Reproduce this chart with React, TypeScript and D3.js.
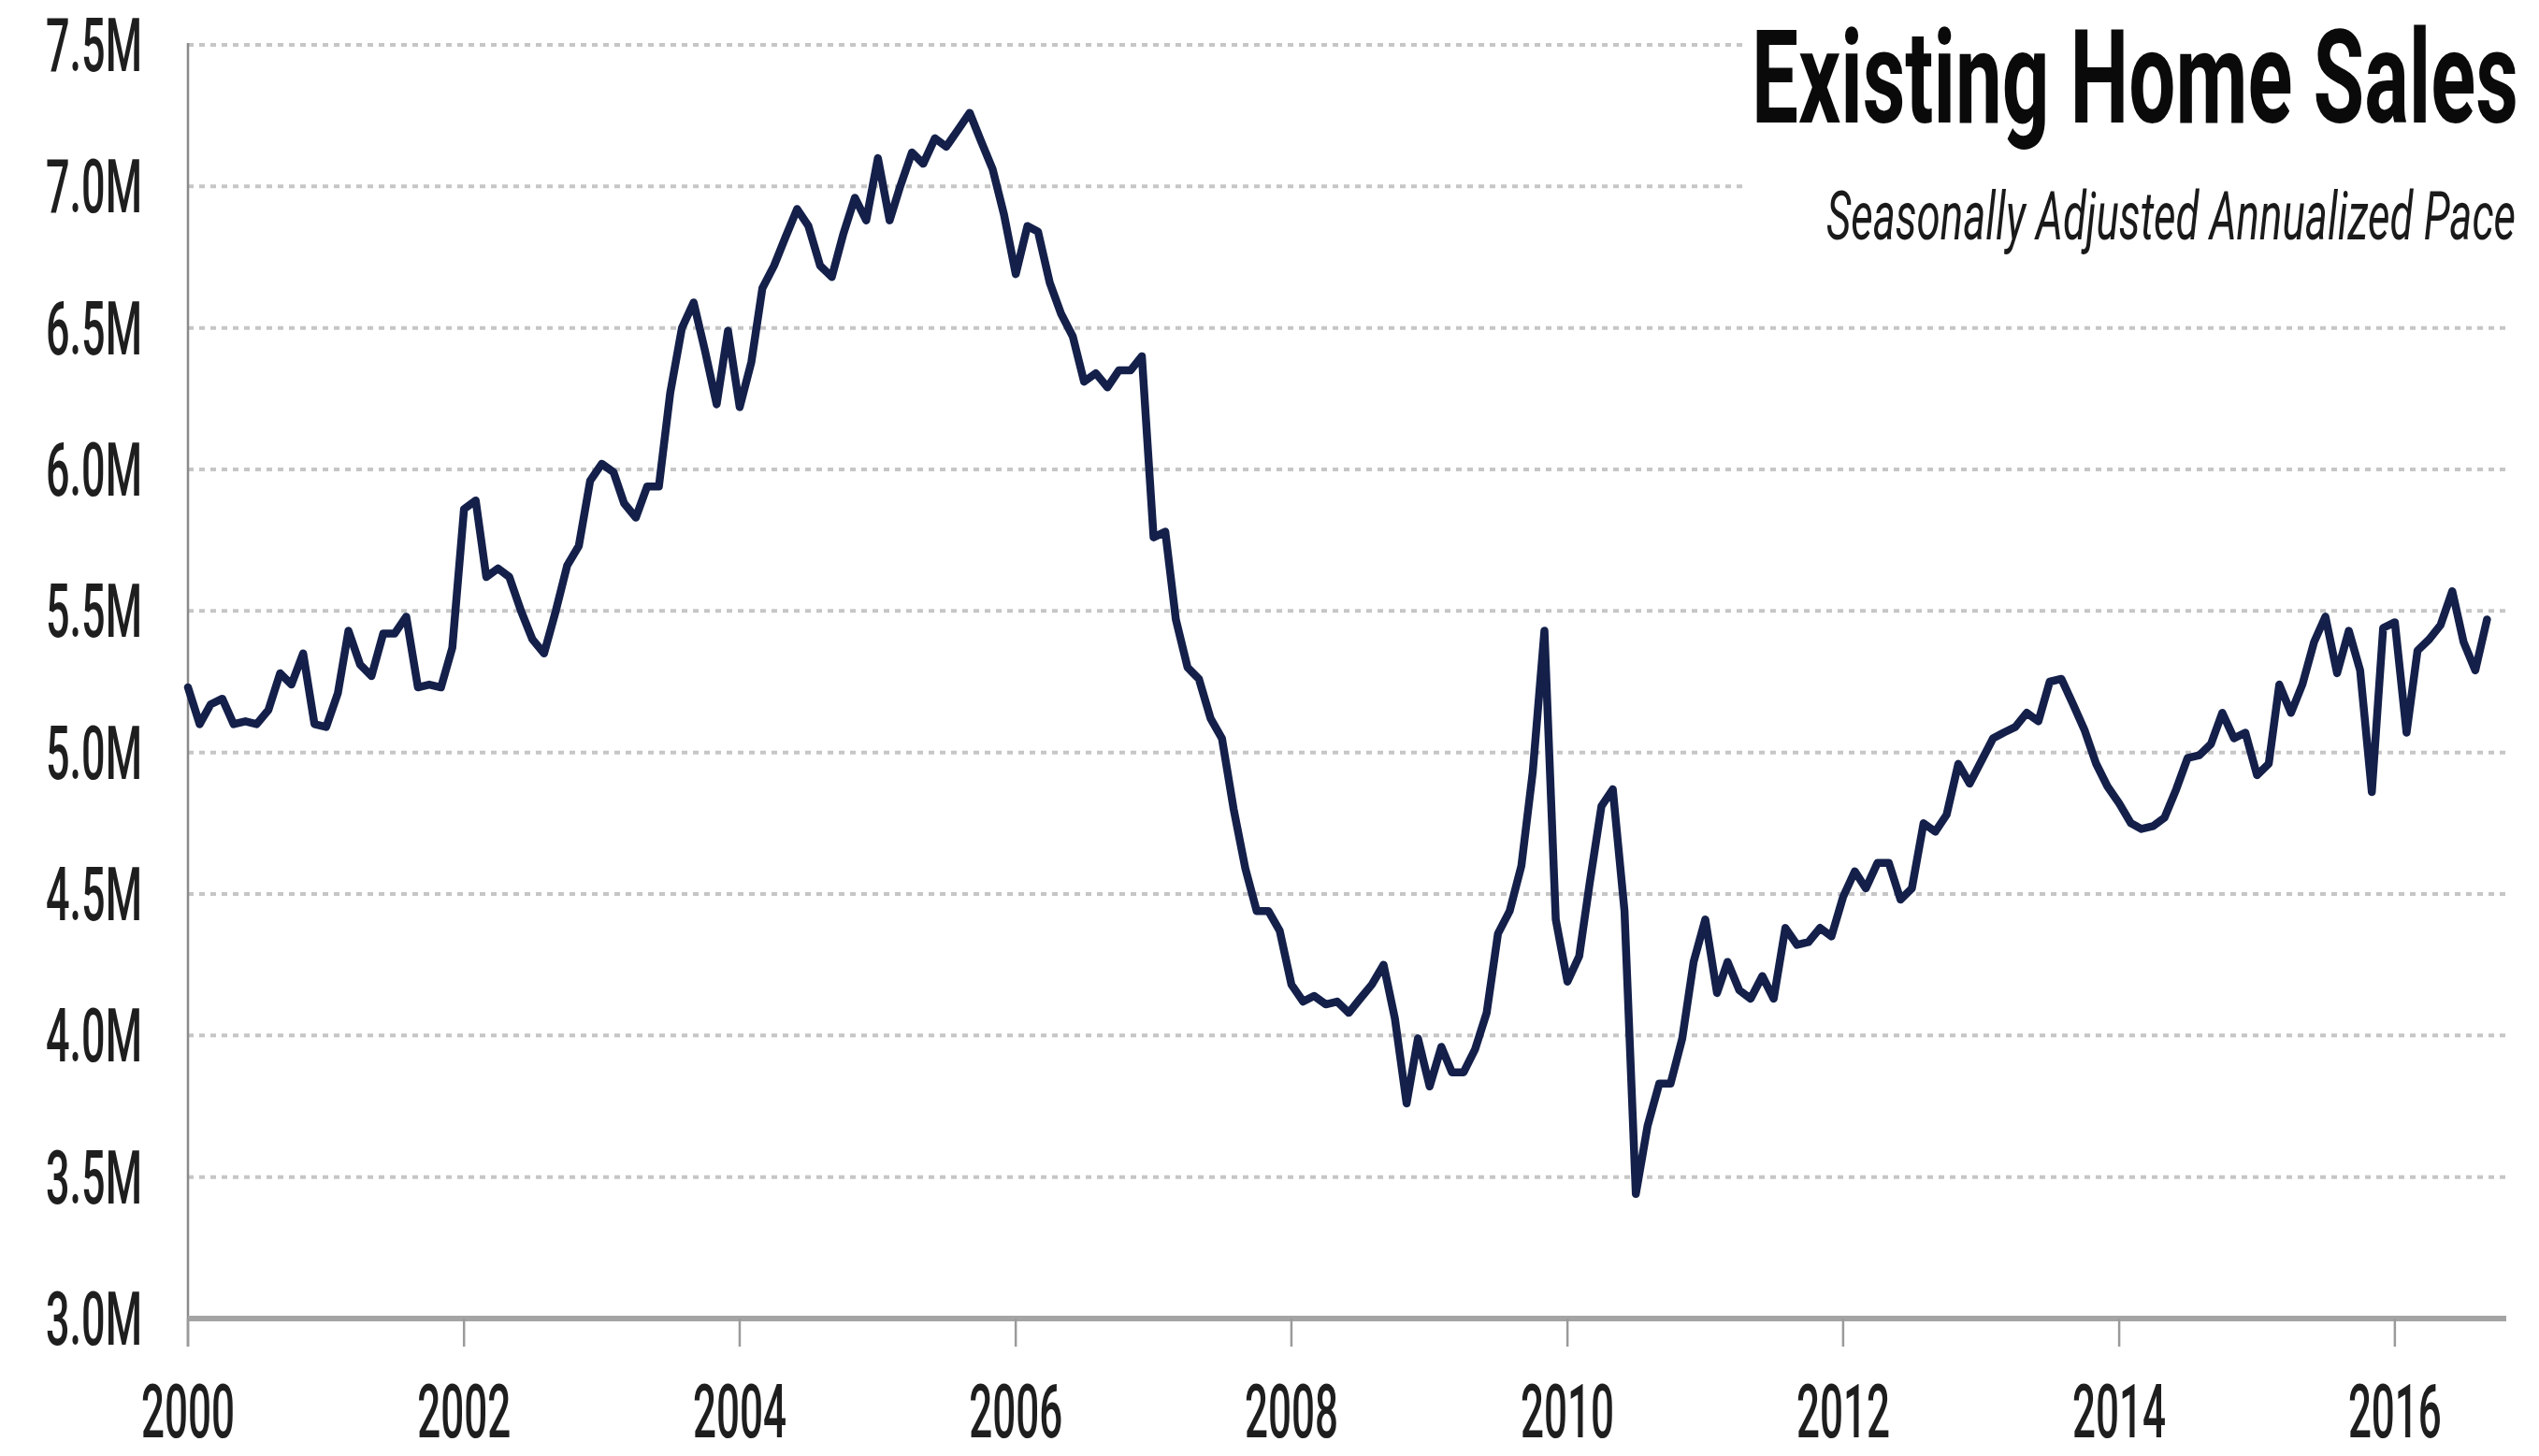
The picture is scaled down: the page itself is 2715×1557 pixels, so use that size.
import React, { useLayoutEffect, useRef, useState } from "react";
import * as d3 from "d3";

const startYear = 2000;
// Existing home sales, SAAR, millions, monthly from Jan 2000 to Sep 2016
const salesMillions: number[] = [
  5.23, 5.10, 5.17, 5.19, 5.10, 5.11, 5.10, 5.15, 5.28, 5.24, 5.35, 5.10,
  5.09, 5.21, 5.43, 5.31, 5.27, 5.42, 5.42, 5.48, 5.23, 5.24, 5.23, 5.37,
  5.86, 5.89, 5.62, 5.65, 5.62, 5.50, 5.40, 5.35, 5.50, 5.66, 5.73, 5.96,
  6.02, 5.99, 5.88, 5.83, 5.94, 5.94, 6.27, 6.50, 6.59, 6.42, 6.23, 6.49,
  6.22, 6.38, 6.64, 6.72, 6.82, 6.92, 6.86, 6.72, 6.68, 6.83, 6.96, 6.88,
  7.10, 6.88, 7.00, 7.12, 7.08, 7.17, 7.14, 7.20, 7.26, 7.16, 7.06, 6.90,
  6.69, 6.86, 6.84, 6.66, 6.55, 6.47, 6.31, 6.34, 6.29, 6.35, 6.35, 6.40,
  5.76, 5.78, 5.47, 5.30, 5.26, 5.12, 5.05, 4.80, 4.59, 4.44, 4.44, 4.37,
  4.18, 4.12, 4.14, 4.11, 4.12, 4.08, 4.13, 4.18, 4.25, 4.06, 3.76, 3.99,
  3.82, 3.96, 3.87, 3.87, 3.95, 4.08, 4.36, 4.44, 4.60, 4.93, 5.43, 4.41,
  4.19, 4.28, 4.54, 4.81, 4.87, 4.44, 3.44, 3.68, 3.83, 3.83, 3.99, 4.26,
  4.41, 4.15, 4.26, 4.16, 4.13, 4.21, 4.13, 4.38, 4.32, 4.33, 4.38, 4.35,
  4.49, 4.58, 4.52, 4.61, 4.61, 4.48, 4.52, 4.75, 4.72, 4.78, 4.96, 4.89,
  4.97, 5.05, 5.07, 5.09, 5.14, 5.11, 5.25, 5.26, 5.17, 5.08, 4.96, 4.88,
  4.82, 4.75, 4.73, 4.74, 4.77, 4.87, 4.98, 4.99, 5.03, 5.14, 5.05, 5.07,
  4.92, 4.96, 5.24, 5.14, 5.24, 5.39, 5.48, 5.28, 5.43, 5.29, 4.86, 5.44,
  5.46, 5.07, 5.36, 5.40, 5.45, 5.57, 5.39, 5.29, 5.47,
];

const yTicks: number[] = [3.0, 3.5, 4.0, 4.5, 5.0, 5.5, 6.0, 6.5, 7.0, 7.5];
const xTickYears: number[] = [2000, 2002, 2004, 2006, 2008, 2010, 2012, 2014, 2016];
const titleText = "Existing Home Sales";
const subtitleText = "Seasonally Adjusted Annualized Pace";

const W = 2715;
const H = 1557;
const FONT = "Roboto, 'Open Sans', sans-serif";

type FitProps = {
  x: number;
  y: number;
  width: number;
  anchor: "start" | "middle" | "end";
  size: number;
  weight?: number;
  italic?: boolean;
  fill?: string;
  children: string;
};

// Text squeezed horizontally to a given width (the reference uses a condensed face)
function FitText({ x, y, width, anchor, size, weight = 400, italic = false, fill = "#1e1e1e", children }: FitProps) {
  const ref = useRef<SVGTextElement>(null);
  const [sx, setSx] = useState(0.6);
  useLayoutEffect(() => {
    const measure = () => {
      if (!ref.current) return;
      const w = ref.current.getComputedTextLength();
      if (w > 0) setSx(width / w);
    };
    measure();
    if ((document as any).fonts && (document as any).fonts.ready) {
      (document as any).fonts.ready.then(measure);
    }
  }, [width, children]);
  return (
    <text
      ref={ref}
      transform={`translate(${x},${y}) scale(${sx},1)`}
      x={0}
      y={0}
      textAnchor={anchor}
      fontFamily={FONT}
      fontWeight={weight}
      fontStyle={italic ? "italic" : "normal"}
      fontSize={size}
      fill={fill}
    >
      {children}
    </text>
  );
}

export default function App() {
  const x = d3
    .scaleTime()
    .domain([new Date(2000, 0, 1), new Date(2016, 9, 22)])
    .range([201, 2680]);
  const y = d3.scaleLinear().domain([3.0, 7.5]).range([1410, 48]);

  const data = salesMillions.map((v, i) => ({ date: new Date(startYear, i, 1), v }));
  const line = d3
    .line<{ date: Date; v: number }>()
    .x((d) => x(d.date))
    .y((d) => y(d.v));

  const [x0, x1] = x.range();

  return (
    <svg
      width={W}
      height={H}
      viewBox={`0 0 ${W} ${H}`}
      style={{ position: "absolute", left: 0, top: 0, background: "#fff" }}
    >
      <rect x={0} y={0} width={W} height={H} fill="#fff" />
      {/* gridlines */}
      {yTicks
        .filter((t) => t > 3.0)
        .map((t) => (
          <line
            key={"g" + t}
            x1={x0}
            x2={x1}
            y1={y(t)}
            y2={y(t)}
            stroke="#c6c6c6"
            strokeWidth={4}
            strokeDasharray="6 6"
          />
        ))}
      {/* title background */}
      <rect x={1866} y={0} width={W - 1866} height={272} fill="#fff" />
      {/* y axis line */}
      <line x1={x0} x2={x0} y1={y(7.5) - 2} y2={1440} stroke="#8a8a8a" strokeWidth={2.5} />
      {/* x axis line */}
      <line x1={x0} x2={x1} y1={y(3.0)} y2={y(3.0)} stroke="#a4a4a4" strokeWidth={6} />
      {/* x ticks */}
      {xTickYears.map((yr) => {
        const px = x(new Date(yr, 0, 1));
        return (
          <g key={"xt" + yr}>
            <line x1={px} x2={px} y1={y(3.0)} y2={1440} stroke="#9a9a9a" strokeWidth={2.5} />
            <FitText x={px} y={1537} width={100} anchor="middle" size={80} weight={500}>
              {String(yr)}
            </FitText>
          </g>
        );
      })}
      {/* y tick labels */}
      {yTicks.map((t) => (
        <FitText key={"yl" + t} x={152} y={y(t) + 28} width={103} anchor="end" size={80} weight={500}>
          {t.toFixed(1) + "M"}
        </FitText>
      ))}
      {/* data line */}
      <path
        d={line(data) || ""}
        fill="none"
        stroke="#14204a"
        strokeWidth={8.5}
        strokeLinejoin="round"
        strokeLinecap="round"
      />
      {/* titles */}
      <FitText x={2693} y={131} width={820} anchor="end" size={140} weight={700} fill="#0a0a0a">
        {titleText}
      </FitText>
      <FitText x={2690} y={256} width={737} anchor="end" size={72} italic fill="#1a1a1a">
        {subtitleText}
      </FitText>
    </svg>
  );
}
